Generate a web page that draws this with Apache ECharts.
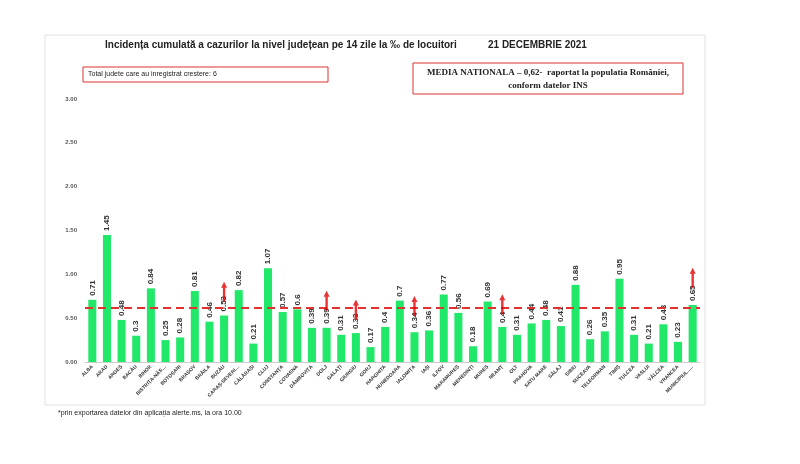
<!DOCTYPE html><html><head><meta charset="utf-8"><script src="https://cdn.jsdelivr.net/npm/echarts@6/dist/echarts.min.js"></script>
<style>body{margin:0;background:#fff}#c{width:800px;height:464px}</style></head><body><div id="c"></div><script>
const categories=['ALBA','ARAD','ARGEȘ','BACĂU','BIHOR','BISTRIȚA-NĂSĂUD','BOTOȘANI','BRAȘOV','BRĂILA','BUZĂU','CARAȘ-SEVERIN','CĂLĂRAȘI','CLUJ','CONSTANȚA','COVASNA','DÂMBOVIȚA','DOLJ','GALAȚI','GIURGIU','GORJ','HARGHITA','HUNEDOARA','IALOMIȚA','IAȘI','ILFOV','MARAMUREȘ','MEHEDINȚI','MUREȘ','NEAMȚ','OLT','PRAHOVA','SATU MARE','SĂLAJ','SIBIU','SUCEAVA','TELEORMAN','TIMIȘ','TULCEA','VASLUI','VÂLCEA','VRANCEA','MUNICIPIUL...'];
const values=[0.71,1.45,0.48,0.3,0.84,0.25,0.28,0.81,0.46,0.53,0.82,0.21,1.07,0.57,0.6,0.39,0.39,0.31,0.33,0.17,0.4,0.7,0.34,0.36,0.77,0.56,0.18,0.69,0.4,0.31,0.44,0.48,0.41,0.88,0.26,0.35,0.95,0.31,0.21,0.43,0.23,0.65];
const rising=['BUZĂU','DOLJ','GIURGIU','IALOMIȚA','NEAMȚ','MUNICIPIUL...'];
const arrowY=[0.8,0.7,0.6,0.64,0.66,0.96];
const national=0.62;
const chart=echarts.init(document.getElementById('c'));
chart.setOption({
 animation:false,
 graphic:[
  {type:'rect',shape:{x:45,y:35,width:660,height:370},style:{fill:'none',stroke:'#e0e0e0'}},
  {type:'text',x:105,y:40,style:{text:'Incidența cumulată a cazurilor la nivel județean pe 14 zile la ‰ de locuitori',font:'bold 10px Liberation Sans',fill:'#222'}},
  {type:'text',x:488,y:40,style:{text:'21 DECEMBRIE 2021',font:'bold 10px Liberation Sans',fill:'#222'}},
  {type:'rect',shape:{x:83,y:67,width:245,height:15},style:{fill:'#fff',stroke:'#d33',lineWidth:1}},
  {type:'text',x:88,y:71,style:{text:'Total judete care au inregistrat crestere: 6',font:'7px Liberation Sans',fill:'#222'}},
  {type:'rect',shape:{x:413,y:63,width:270,height:31},style:{fill:'#fff',stroke:'#d33',lineWidth:1}},
  {type:'text',x:548,y:66,style:{text:'MEDIA NATIONALA – 0,62-  raportat la populatia României,\nconform datelor INS',font:'bold 9px Liberation Serif',fill:'#222',align:'center',lineHeight:13}},
  {type:'text',x:58,y:410,style:{text:'*prin exportarea datelor din aplicația alerte.ms, la ora 10.00',font:'7px Liberation Sans',fill:'#222'}}
 ],
 grid:{left:85,right:100,top:99,bottom:102},
 xAxis:{type:'category',data:categories,axisTick:{show:false},axisLine:{lineStyle:{color:'#ccc'}},
  axisLabel:{rotate:45,interval:0,fontSize:5,fontWeight:'bold',color:'#333',margin:4,formatter:v=>v.length>12?v.slice(0,12)+'…':v}},
 yAxis:{type:'value',min:0,max:3,interval:0.5,splitLine:{show:false},axisLine:{show:false},axisTick:{show:false},
  axisLabel:{fontSize:6,fontWeight:'bold',color:'#555',formatter:v=>v.toFixed(2)}},
 series:[
  {type:'bar',data:values,barWidth:'55%',itemStyle:{color:'#22e86a'},
   label:{show:true,position:'top',rotate:90,align:'left',verticalAlign:'middle',distance:4,fontSize:8,fontWeight:'bold',color:'#333',formatter:p=>String(p.value)},
   markLine:{silent:true,symbol:'none',label:{show:false},lineStyle:{color:'#e53030',type:[8,5],width:2},data:[{yAxis:national}]}},
  {type:'scatter',data:rising.map((c,i)=>[c,arrowY[i]]),symbol:'path://M5,0 L10,6 L7,6 L7,20 L3,20 L3,6 L0,6 Z',symbolSize:[6,20],itemStyle:{color:'#e60000'},z:5}
 ]
});
</script></body></html>
